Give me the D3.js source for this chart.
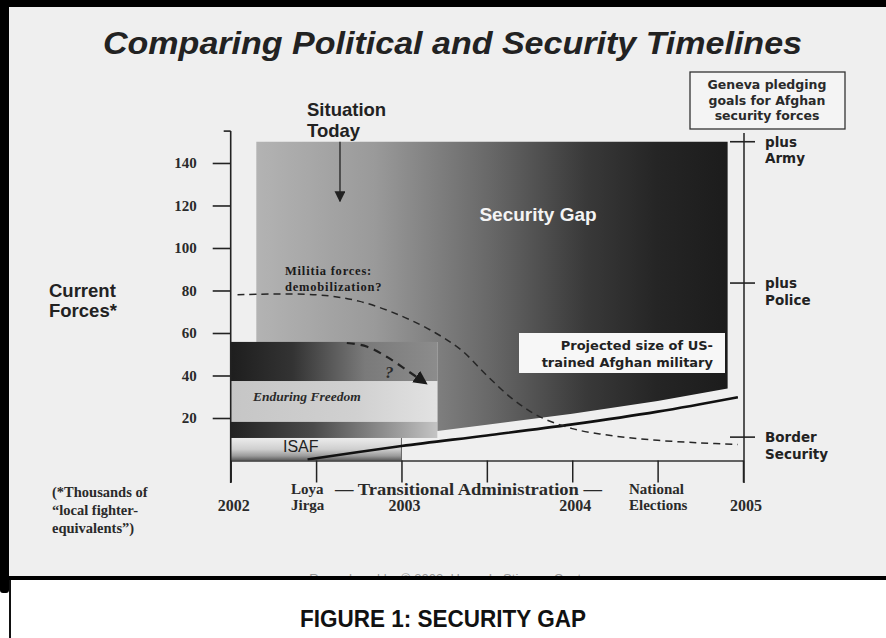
<!DOCTYPE html>
<html>
<head>
<meta charset="utf-8">
<script src="https://cdn.jsdelivr.net/npm/d3@7"></script>
<style>
  body { margin: 0; background: #fff; }
  svg { display: block; }
</style>
</head>
<body>
<div id="chart"></div>
<script>
// ---- chart values ----
var halfYearTicks = [2002, 2002.5, 2003, 2003.5, 2004, 2004.5, 2005];
var yearLabels = [2002, 2003, 2004, 2005];
var forceTicks = [20, 40, 60, 80, 100, 120, 140];

// current forces, stacked bands (thousands)
var bandNames = ["ISAF", "", "Enduring Freedom", ""];
var bandLow = [0, 10.6, 18.3, 37.4];
var bandHigh = [10.6, 18.3, 37.4, 55.8];
var bandEnd = [2003, 2003.21, 2003.21, 2003.21];

// security gap block
var gapTop = 150;
var gapStart = 2002.15;
var gapEnd = 2004.91;
var gapMargin = 5;

// projected size of US-trained Afghan military
var militaryYears = [2002.45, 2002.75, 2003, 2003.5, 2004, 2004.5, 2004.97];
var militaryForces = [0.5, 4, 6.8, 11.8, 17, 23, 29.8];

// militia forces: demobilization?
var militiaYears = [2002.04, 2002.5, 2002.75, 2003, 2003.2, 2003.35, 2003.5, 2003.65, 2003.8, 2004, 2004.25, 2004.5, 2004.75, 2004.97];
var militiaForces = [78, 78, 75, 68, 60, 52, 40, 29, 21, 15, 11.5, 9.5, 8.3, 7.5];

// "?" arrow: current forces drawdown
var questionYears = [2002.68, 2002.8, 2002.92, 2003.04, 2003.14];
var questionForces = [55.3, 53.5, 48.5, 42, 36.5];

// Geneva pledging goals
var genevaGoals = [150, 83.5, 11];
var genevaLabels = [["plus", "Army"], ["plus", "Police"], ["Border", "Security"]];

var situationToday = 2002.64;

// ---- layout ----
var svgWidth = 886;
var svgHeight = 638;

var svg = d3.select("#chart")
  .append("svg")
  .attr("width", svgWidth)
  .attr("height", svgHeight);

var x = d3.scaleLinear().domain([2002, 2005]).range([230.7, 743]);
var y = d3.scaleLinear().domain([0, 155]).range([460.5, 131.1]);

var sans = "'Liberation Sans', Arial, sans-serif";
var serif = "'Liberation Serif', 'Times New Roman', serif";
var round = "'DejaVu Sans', Verdana, sans-serif";

// gradients
var defs = svg.append("defs");

function hGrad(id, x1, x2, stops) {
  var g = defs.append("linearGradient").attr("id", id)
    .attr("gradientUnits", "userSpaceOnUse")
    .attr("x1", x1).attr("x2", x2).attr("y1", 0).attr("y2", 0);
  stops.forEach(function(s) {
    g.append("stop").attr("offset", s[0]).attr("stop-color", s[1]);
  });
}

hGrad("gapFill", x(gapStart), x(gapEnd), [[0, "#b3b3b3"], [0.25, "#9a9a9a"], [0.5, "#676767"], [0.7, "#393939"], [0.85, "#252525"], [1, "#1c1c1c"]]);
hGrad("bandDarkTop", x(2002), x(2003.21), [[0, "#1e1e1e"], [0.3, "#333"], [0.65, "#7a7a7a"], [1, "#8c8c8c"]]);
hGrad("bandLight", x(2002), x(2003.21), [[0, "#c6c6c6"], [0.6, "#d0d0d0"], [1, "#e2e2e2"]]);
hGrad("bandDarkLow", x(2002), x(2003.21), [[0, "#222"], [0.4, "#4a4a4a"], [0.8, "#9a9a9a"], [1, "#c4c4c4"]]);

var isafGrad = defs.append("linearGradient").attr("id", "bandIsaf")
  .attr("x1", 0).attr("x2", 0).attr("y1", 0).attr("y2", 1);
[[0, "#ececec"], [0.5, "#cfcfcf"], [0.8, "#9a9a9a"], [1, "#5a5a5a"]].forEach(function(s) {
  isafGrad.append("stop").attr("offset", s[0]).attr("stop-color", s[1]);
});
var bandFills = ["url(#bandIsaf)", "url(#bandDarkLow)", "url(#bandLight)", "url(#bandDarkTop)"];

defs.append("marker").attr("id", "arrowHead")
  .attr("viewBox", "0 0 10 10").attr("refX", 9).attr("refY", 5)
  .attr("markerWidth", 11).attr("markerHeight", 11)
  .attr("markerUnits", "userSpaceOnUse").attr("orient", "auto")
  .append("path").attr("d", "M0,0L10,5L0,10z").attr("fill", "#222");

defs.append("marker").attr("id", "arrowBig")
  .attr("viewBox", "0 0 10 10").attr("refX", 8).attr("refY", 5)
  .attr("markerWidth", 14).attr("markerHeight", 14)
  .attr("markerUnits", "userSpaceOnUse").attr("orient", "auto")
  .append("path").attr("d", "M0,0L10,5L0,10z").attr("fill", "#1a1a1a");

// page background (scanned sheet) and frame
svg.append("rect").attr("width", svgWidth).attr("height", 578).attr("fill", "#efefef");

// faint cut-off credit line under the frame
svg.append("text")
  .attr("x", 451).attr("y", 583)
  .attr("text-anchor", "middle")
  .style("font", "13px " + sans).attr("fill", "#9a9a9a")
  .text("Reproduced by \u00a9 2002, Henry L. Stimson Center");
svg.append("rect").attr("y", 578).attr("width", svgWidth).attr("height", 60).attr("fill", "#fff");

svg.append("rect").attr("x", 0).attr("y", 0).attr("width", svgWidth).attr("height", 7).attr("fill", "#000");
svg.append("rect").attr("x", 0).attr("y", 0).attr("width", 9).attr("height", 593).attr("rx", 3).attr("fill", "#000");
svg.append("rect").attr("x", 8).attr("y", 576).attr("width", svgWidth - 8).attr("height", 4).attr("fill", "#000");
svg.append("rect").attr("x", 9).attr("y", 580).attr("width", 2).attr("height", 58).attr("fill", "#111");

// title
svg.append("text")
  .attr("x", 103).attr("y", 54)
  .attr("textLength", 699).attr("lengthAdjust", "spacingAndGlyphs")
  .style("font", "italic bold 31px " + sans).attr("fill", "#222")
  .text("Comparing Political and Security Timelines");

// ---- security gap ----
function valueAt(xs, ys, t) {
  var i = d3.bisectRight(xs, t);
  i = Math.max(1, Math.min(xs.length - 1, i));
  var k = (t - xs[i - 1]) / (xs[i] - xs[i - 1]);
  return ys[i - 1] + (ys[i] - ys[i - 1]) * k;
}

var gapLeftBottom = bandEnd[3];
var gapPts = [[gapStart, gapTop], [gapEnd, gapTop],
  [gapEnd, valueAt(militaryYears, militaryForces, gapEnd) + gapMargin]];
for (var i = militaryYears.length - 1; i >= 0; i--) {
  if (militaryYears[i] < gapEnd && militaryYears[i] > gapLeftBottom) {
    gapPts.push([militaryYears[i], militaryForces[i] + gapMargin]);
  }
}
gapPts.push([gapLeftBottom, valueAt(militaryYears, militaryForces, gapLeftBottom) + gapMargin]);
gapPts.push([gapLeftBottom, bandHigh[3]]);
gapPts.push([gapStart, bandHigh[3]]);

svg.append("path")
  .attr("d", d3.line().x(d => x(d[0])).y(d => y(d[1]))(gapPts) + "Z")
  .attr("fill", "url(#gapFill)");

// current force bands
svg.selectAll(".band")
  .data(bandLow)
  .enter()
  .append("rect")
  .attr("class", "band")
  .attr("x", x(2002))
  .attr("y", (d, i) => y(bandHigh[i]))
  .attr("width", (d, i) => x(bandEnd[i]) - x(2002))
  .attr("height", (d, i) => y(d) - y(bandHigh[i]))
  .attr("fill", (d, i) => bandFills[i]);

svg.append("line")
  .attr("x1", x(bandEnd[0])).attr("x2", x(bandEnd[0]))
  .attr("y1", y(bandHigh[0])).attr("y2", y(0))
  .attr("stroke", "#666").attr("stroke-width", 1);

svg.append("text")
  .attr("x", 283).attr("y", 452)
  .style("font", "16px " + sans).attr("fill", "#222")
  .text(bandNames[0]);

svg.append("text")
  .attr("x", 253).attr("y", 401)
  .style("font", "italic bold 13.5px " + serif).attr("fill", "#2a2a2a")
  .text(bandNames[2]);

// projected military line
svg.append("path")
  .datum(militaryYears)
  .attr("d", d3.line().x(d => x(d)).y((d, i) => y(militaryForces[i])).curve(d3.curveMonotoneX))
  .attr("fill", "none").attr("stroke", "#111").attr("stroke-width", 2.6);

// militia dashed curve
svg.append("path")
  .datum(militiaYears)
  .attr("d", d3.line().x(d => x(d)).y((d, i) => y(militiaForces[i])).curve(d3.curveCatmullRom))
  .attr("fill", "none").attr("stroke", "#262626")
  .attr("stroke-width", 1.5).attr("stroke-dasharray", "7,5");

// "?" dashed arrow
svg.append("path")
  .datum(questionYears)
  .attr("d", d3.line().x(d => x(d)).y((d, i) => y(questionForces[i])).curve(d3.curveMonotoneX))
  .attr("fill", "none").attr("stroke", "#222")
  .attr("stroke-width", 2.2).attr("stroke-dasharray", "8,6")
  .attr("marker-end", "url(#arrowBig)");

svg.append("text")
  .attr("x", 385).attr("y", 378)
  .style("font", "italic bold 17px " + serif).attr("fill", "#2a2a2a")
  .text("?");

// situation today arrow
svg.append("line")
  .attr("x1", x(situationToday)).attr("x2", x(situationToday))
  .attr("y1", y(gapTop)).attr("y2", y(122))
  .attr("stroke", "#222").attr("stroke-width", 1.3)
  .attr("marker-end", "url(#arrowHead)");

svg.selectAll(".today")
  .data(["Situation", "Today"])
  .enter()
  .append("text")
  .attr("x", 307)
  .attr("y", (d, i) => 116 + i * 21)
  .style("font", "bold 18.5px " + sans).attr("fill", "#222")
  .text(d => d);

// gap annotations
svg.append("text")
  .attr("x", 538).attr("y", 221)
  .attr("text-anchor", "middle")
  .style("font", "bold 19px " + sans).attr("fill", "#f4f4f4")
  .text("Security Gap");

svg.selectAll(".militia")
  .data(["Militia forces:", "demobilization?"])
  .enter()
  .append("text")
  .attr("x", 285)
  .attr("y", (d, i) => 275 + i * 16)
  .style("font", "bold 12.5px " + serif).attr("letter-spacing", "0.8px").attr("fill", "#1a1a1a")
  .text(d => d);

svg.append("rect")
  .attr("x", 519).attr("y", 333).attr("width", 206).attr("height", 40)
  .attr("fill", "#f7f7f7");
svg.selectAll(".proj")
  .data(["Projected size of US-", "trained Afghan military"])
  .enter()
  .append("text")
  .attr("x", 713)
  .attr("y", (d, i) => 350 + i * 17)
  .attr("text-anchor", "end")
  .style("font", "bold 13px " + round).attr("fill", "#222")
  .text(d => d);

// ---- axes ----
var leftAxis = d3.axisLeft(y)
  .tickValues(forceTicks)
  .tickSize(18).tickSizeOuter(0).tickPadding(16);

var yAxisG = svg.append("g")
  .attr("transform", `translate(${x(2002)},0)`)
  .call(leftAxis);
yAxisG.select(".domain").remove();
yAxisG.selectAll("line").attr("stroke", "#222").attr("stroke-width", 1.6);
yAxisG.selectAll("text")
  .style("font", "bold 15px " + serif).attr("fill", "#2a2a2a");

svg.append("line")
  .attr("x1", x(2002)).attr("x2", x(2002))
  .attr("y1", y(155)).attr("y2", 483)
  .attr("stroke", "#222").attr("stroke-width", 1.6);
svg.append("line")
  .attr("x1", x(2002) - 7).attr("x2", x(2002))
  .attr("y1", y(155)).attr("y2", y(155))
  .attr("stroke", "#222").attr("stroke-width", 1.6);

var bottomAxis = d3.axisBottom(x)
  .tickValues(halfYearTicks)
  .tickSize(22).tickSizeOuter(0).tickFormat("");

var xAxisG = svg.append("g")
  .attr("transform", `translate(0,${y(0)})`)
  .call(bottomAxis);
xAxisG.select(".domain").attr("stroke", "#333").attr("stroke-width", 1.4);
xAxisG.selectAll("line").attr("stroke", "#222").attr("stroke-width", 1.5);

// right-hand Geneva goal axis
svg.append("line")
  .attr("x1", x(2005) + 1).attr("x2", x(2005) + 1)
  .attr("y1", 133).attr("y2", 483)
  .attr("stroke", "#222").attr("stroke-width", 1.5);

svg.selectAll(".goalTick")
  .data(genevaGoals)
  .enter()
  .append("line")
  .attr("x1", 730).attr("x2", 755)
  .attr("y1", d => y(d)).attr("y2", d => y(d))
  .attr("stroke", "#222").attr("stroke-width", 1.6);

genevaGoals.forEach(function(g, i) {
  svg.selectAll(".goal" + i)
    .data(genevaLabels[i])
    .enter()
    .append("text")
    .attr("x", 765)
    .attr("y", (d, j) => y(g) + 5 + j * 16.5)
    .style("font", "bold 13.5px " + round).attr("fill", "#222")
    .text(d => d);
});

svg.append("rect")
  .attr("x", 690).attr("y", 72).attr("width", 155).attr("height", 57)
  .attr("fill", "#f4f4f4").attr("stroke", "#333").attr("stroke-width", 1.3);
svg.selectAll(".geneva")
  .data(["Geneva pledging", "goals for Afghan", "security forces"])
  .enter()
  .append("text")
  .attr("x", 767)
  .attr("y", (d, i) => 89 + i * 15.5)
  .attr("text-anchor", "middle")
  .style("font", "bold 12.5px " + round).attr("fill", "#2a2a2a")
  .text(d => d);

// y axis title
svg.selectAll(".current")
  .data(["Current", "Forces*"])
  .enter()
  .append("text")
  .attr("x", 49)
  .attr("y", (d, i) => 297 + i * 20)
  .style("font", "bold 18.5px " + sans).attr("fill", "#222")
  .text(d => d);

// timeline labels
svg.selectAll(".year")
  .data(yearLabels)
  .enter()
  .append("text")
  .attr("x", d => x(d) + 3)
  .attr("y", 511)
  .attr("text-anchor", "middle")
  .style("font", "bold 16px " + serif).attr("fill", "#2a2a2a")
  .text(d => d);

function twoLines(lines, left, top) {
  lines.forEach(function(t, i) {
    svg.append("text")
      .attr("x", left).attr("y", top + i * 16)
      .style("font", "bold 15px " + serif).attr("fill", "#2a2a2a")
      .text(t);
  });
}
twoLines(["Loya", "Jirga"], 291, 494);
twoLines(["National", "Elections"], 629, 494);

svg.append("text")
  .attr("x", 335).attr("y", 495)
  .attr("textLength", 267).attr("lengthAdjust", "spacingAndGlyphs")
  .style("font", "bold 16px " + serif).attr("fill", "#2a2a2a")
  .text("\u2014 Transitional Administration \u2014");

svg.selectAll(".note")
  .data(["(*Thousands of", "\u201clocal fighter-", "equivalents\u201d)"])
  .enter()
  .append("text")
  .attr("x", 52)
  .attr("y", (d, i) => 497 + i * 18)
  .style("font", "bold 14.5px " + serif).attr("fill", "#2a2a2a")
  .text(d => d);

// caption
svg.append("text")
  .attr("x", 443).attr("y", 627)
  .attr("text-anchor", "middle")
  .attr("textLength", 286).attr("lengthAdjust", "spacingAndGlyphs")
  .style("font", "bold 24px 'Liberation Sans Narrow', " + sans).attr("fill", "#111")
  .text("FIGURE 1: SECURITY GAP");
</script>
</body>
</html>
